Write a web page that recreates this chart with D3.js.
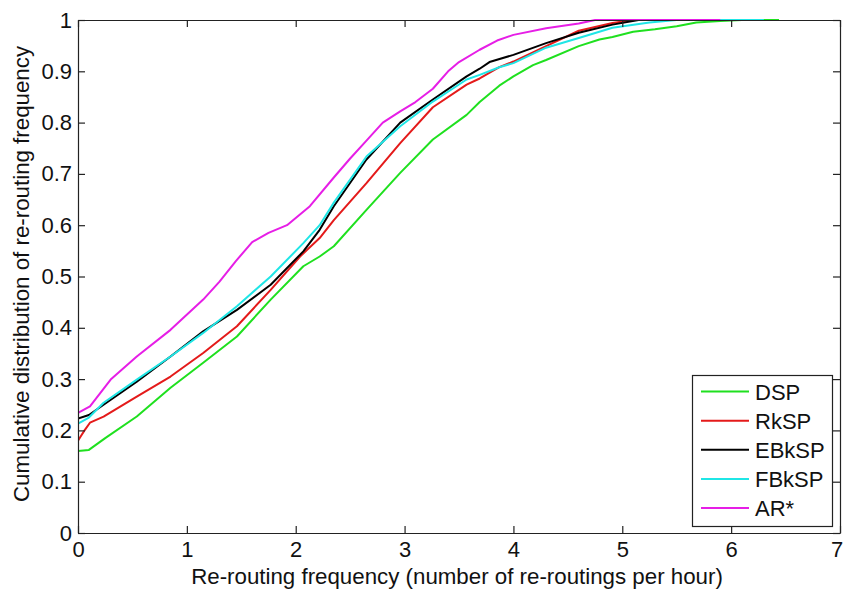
<!DOCTYPE html>
<html>
<head>
<meta charset="utf-8">
<script src="https://cdn.jsdelivr.net/npm/d3@7"></script>
<style>
  html, body { margin: 0; padding: 0; background: #fff; }
  svg { display: block; font-family: "Liberation Sans", Arial, Helvetica, sans-serif; }
</style>
</head>
<body>
<svg id="chart" width="844" height="591"></svg>
<script>
// ---- data ----
const seriesNames = ["DSP", "RkSP", "EBkSP", "FBkSP", "AR*"];
const seriesColors = ["#1fe01f", "#e41a1a", "#000000", "#1fe6e6", "#e61ee6"];

const dsp = [[0,0.16],[0.1,0.162],[0.25,0.185],[0.54,0.227],[0.85,0.283],[1.15,0.332],[1.46,0.383],[1.77,0.455],[2.07,0.52],[2.22,0.539],[2.35,0.559],[2.65,0.63],[2.96,0.702],[3.26,0.767],[3.57,0.815],[3.69,0.84],[3.87,0.872],[4.0,0.89],[4.18,0.912],[4.3,0.922],[4.6,0.949],[4.79,0.962],[4.91,0.967],[5.1,0.977],[5.3,0.982],[5.5,0.988],[5.68,0.995],[5.9,0.998],[6.1,1.0],[6.44,1.0]];
const rksp = [[0,0.18],[0.03,0.19],[0.06,0.2],[0.11,0.215],[0.235,0.227],[0.54,0.266],[0.85,0.305],[1.15,0.351],[1.46,0.403],[1.77,0.474],[2.04,0.539],[2.22,0.575],[2.35,0.61],[2.65,0.682],[2.96,0.76],[3.26,0.83],[3.57,0.874],[3.69,0.886],[3.87,0.908],[4.0,0.919],[4.3,0.949],[4.6,0.979],[4.91,0.994],[5.1,1.0],[5.75,1.0]];
const ebksp = [[0,0.223],[0.1,0.23],[0.235,0.25],[0.54,0.295],[0.85,0.344],[1.15,0.393],[1.46,0.435],[1.77,0.484],[2.07,0.549],[2.22,0.591],[2.35,0.637],[2.65,0.728],[2.96,0.8],[3.26,0.845],[3.57,0.89],[3.69,0.905],[3.78,0.918],[4.0,0.932],[4.3,0.955],[4.6,0.975],[4.91,0.991],[5.15,1.0],[6.2,1.0]];
const fbksp = [[0,0.213],[0.1,0.225],[0.235,0.254],[0.54,0.299],[0.85,0.344],[1.15,0.39],[1.46,0.442],[1.77,0.5],[2.07,0.565],[2.22,0.6],[2.35,0.644],[2.65,0.734],[2.96,0.793],[3.26,0.841],[3.57,0.884],[3.69,0.893],[3.87,0.908],[4.0,0.916],[4.3,0.946],[4.6,0.965],[4.91,0.985],[5.25,0.995],[5.5,1.0],[6.3,1.0]];
const arstar = [[0,0.234],[0.11,0.247],[0.3,0.299],[0.54,0.344],[0.85,0.396],[1.15,0.455],[1.3,0.49],[1.45,0.53],[1.6,0.567],[1.75,0.585],[1.92,0.6],[2.13,0.637],[2.35,0.693],[2.5,0.73],[2.65,0.765],[2.8,0.8],[2.96,0.822],[3.1,0.84],[3.26,0.866],[3.4,0.9],[3.5,0.918],[3.69,0.942],[3.85,0.96],[4.0,0.971],[4.3,0.984],[4.6,0.993],[4.75,1.0],[5.9,1.0]];
const seriesData = [dsp, rksp, ebksp, fbksp, arstar];

const xTicks = [0, 1, 2, 3, 4, 5, 6, 7];
const yTicks = [0, 0.1, 0.2, 0.3, 0.4, 0.5, 0.6, 0.7, 0.8, 0.9, 1];
const xTickLabels = ["0", "1", "2", "3", "4", "5", "6", "7"];
const yTickLabels = ["0", "0.1", "0.2", "0.3", "0.4", "0.5", "0.6", "0.7", "0.8", "0.9", "1"];
const xLabel = "Re-routing frequency (number of re-routings per hour)";
const yLabel = "Cumulative distribution of re-routing frequency";

// ---- layout ----
const svg = d3.select("#chart");
const L = 78, R = 840, T = 20, B = 533;
const xScale = d3.scaleLinear().domain([0, 7]).range([L, R]);
const yScale = d3.scaleLinear().domain([0, 1]).range([B, T]);
const tickFont = 22;
const labelFont = 22.3;
const tickLen = 7;

// curves (clipped to plot)
svg.append("clipPath").attr("id", "clip")
  .append("rect").attr("x", L).attr("y", T - 2).attr("width", R - L).attr("height", B - T + 2);

const line = d3.line().x(d => xScale(d[0])).y(d => yScale(d[1]));
const g = svg.append("g").attr("clip-path", "url(#clip)");
seriesData.forEach((s, i) => {
  g.append("path").datum(s)
    .attr("d", line)
    .attr("fill", "none")
    .attr("stroke", seriesColors[i])
    .attr("stroke-width", 2)
    .attr("stroke-linejoin", "round");
});

// axes box with inward ticks
const axisColor = "#222";
const axB = d3.axisBottom(xScale).tickValues(xTicks).tickFormat((d, i) => xTickLabels[i]).tickSizeInner(-tickLen).tickSizeOuter(0).tickPadding(8);
const axT = d3.axisTop(xScale).tickValues(xTicks).tickFormat("").tickSizeInner(-tickLen).tickSizeOuter(0);
const axL = d3.axisLeft(yScale).tickValues(yTicks).tickFormat((d, i) => yTickLabels[i]).tickSizeInner(-tickLen).tickSizeOuter(0).tickPadding(6);
const axR = d3.axisRight(yScale).tickValues(yTicks).tickFormat("").tickSizeInner(-tickLen).tickSizeOuter(0);

function styleAxis(sel) {
  sel.selectAll("path.domain").attr("stroke", axisColor).attr("stroke-width", 1.2);
  sel.selectAll(".tick line").attr("stroke", axisColor).attr("stroke-width", 1.2);
  sel.selectAll(".tick text").attr("fill", "#111").style("font-size", tickFont + "px").style("font-family", "'Liberation Sans', Arial, sans-serif");
}
svg.append("g").attr("transform", `translate(0,${B})`).call(axB).call(styleAxis);
svg.append("g").attr("transform", `translate(0,${T})`).call(axT).call(styleAxis);
svg.append("g").attr("transform", `translate(${L},0)`).call(axL).call(styleAxis);
svg.append("g").attr("transform", `translate(${R},0)`).call(axR).call(styleAxis);
svg.selectAll(".tick text").filter(function(){ return this.textContent === "7"; }).attr("dx", "-0.15em");

// axis labels
svg.append("text")
  .attr("x", (L + R) / 2 - 2).attr("y", 584)
  .attr("text-anchor", "middle")
  .style("font-size", labelFont + "px").attr("fill", "#111")
  .text(xLabel);
svg.append("text")
  .attr("transform", `translate(29,274) rotate(-90)`)
  .attr("text-anchor", "middle")
  .style("font-size", labelFont + "px").attr("fill", "#111")
  .text(yLabel);

// legend
const lg = svg.append("g");
lg.append("rect").attr("x", 692.5).attr("y", 375.5).attr("width", 140).attr("height", 151)
  .attr("fill", "#fff").attr("stroke", axisColor).attr("stroke-width", 1.2);
const legendY = d3.scalePoint().domain(seriesNames).range([391.5, 508]);
seriesNames.forEach((n, i) => {
  const yy = legendY(n);
  lg.append("line").attr("x1", 701).attr("x2", 749).attr("y1", yy).attr("y2", yy)
    .attr("stroke", seriesColors[i]).attr("stroke-width", 2);
  lg.append("text").attr("x", 755).attr("y", yy + 8)
    .style("font-size", tickFont + "px").attr("fill", "#111").text(n);
});
</script>
</body>
</html>
